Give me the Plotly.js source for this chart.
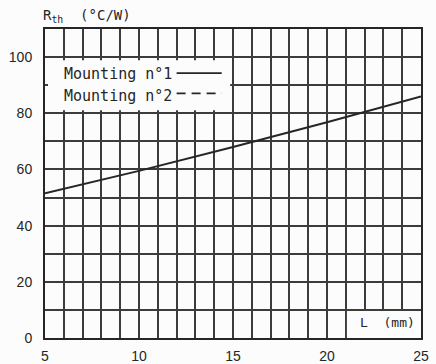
<!DOCTYPE html>
<html>
<head>
<meta charset="utf-8">
<script src="https://cdn.plot.ly/plotly-3.0.1.min.js"></script>
<style>
html,body{margin:0;padding:0;background:#fcfcfc;}
#chart{width:436px;height:364px;}
</style>
</head>
<body>
<div id="chart"></div>
<script>
// Data
const lengthMm = [5, 10, 15, 20, 25];
const rthMounting1 = [51.5, 59.5, 68, 76.8, 86];
const seriesNames = ['Mounting n°1', 'Mounting n°2'];
const xTickVals = [5, 6, 7, 8, 9, 10, 11, 12, 13, 14, 15, 16, 17, 18, 19, 20, 21, 22, 23, 24, 25];
const xTickText = ['5', '', '', '', '', '10', '', '', '', '', '15', '', '', '', '', '20', '', '', '', '', '25'];
const yTickVals = [0, 10, 20, 30, 40, 50, 60, 70, 80, 90, 100, 110];
const yTickText = ['0', '', '20', '', '40', '', '60', '', '80', '', '100', ''];
const yTitle = 'R<sub>th</sub>\u00a0\u00a0(°C/W)';
const xTitle = 'L\u00a0\u00a0(mm)';

const ink = '#262626';
const grid = '#3c3c3c';
const bg = '#fcfcfc';
const mono = 'DejaVu Sans Mono, monospace';

const traces = [{
  x: lengthMm, y: rthMounting1, type: 'scatter', mode: 'lines',
  name: seriesNames[0],
  line: {color: ink, width: 2},
  hoverinfo: 'skip'
}];

const layout = {
  width: 436, height: 364,
  margin: {l: 45, r: 15, t: 29, b: 26},
  paper_bgcolor: bg, plot_bgcolor: bg,
  showlegend: false,
  xaxis: {
    range: [5, 25], tickmode: 'array', tickvals: xTickVals, ticktext: xTickText, ticks: '',
    showgrid: true, gridcolor: grid, gridwidth: 1.6,
    showline: true, linecolor: ink, linewidth: 2, mirror: true, zeroline: false,
    tickfont: {family: 'Liberation Sans, Arial, sans-serif', size: 14, color: ink},
    ticklabelstandoff: 4
  },
  yaxis: {
    range: [0, 110], tickmode: 'array', tickvals: yTickVals, ticktext: yTickText, ticks: '',
    showgrid: true, gridcolor: grid, gridwidth: 1.6,
    showline: true, linecolor: ink, linewidth: 2, mirror: true, zeroline: false,
    tickfont: {family: 'Liberation Sans, Arial, sans-serif', size: 14, color: ink},
    ticklabelstandoff: 8
  },
  shapes: [
    // blank area behind legend
    {type: 'rect', xref: 'x', yref: 'y', x0: 5.16, x1: 14.85, y0: 81.1, y1: 98.9,
     fillcolor: bg, line: {width: 0}, layer: 'between'},
    // blank area behind axis label
    {type: 'rect', xref: 'x', yref: 'y', x0: 21.06, x1: 25, y0: 0, y1: 9.6,
     fillcolor: bg, line: {width: 0}, layer: 'between'},
    // legend samples
    {type: 'line', xref: 'x', yref: 'y', x0: 12.0, x1: 14.4, y0: 94.3, y1: 94.3,
     line: {color: ink, width: 1.8}},
    {type: 'line', xref: 'x', yref: 'y', x0: 12.0, x1: 14.4, y0: 87.1, y1: 87.1,
     line: {color: ink, width: 1.8, dash: '9px,6px'}}
  ],
  annotations: [
    {xref: 'x', yref: 'y', x: 5.9, y: 93.9, xanchor: 'left', yanchor: 'middle',
     text: seriesNames[0], showarrow: false, font: {family: mono, size: 15, color: ink}},
    {xref: 'x', yref: 'y', x: 5.9, y: 86.2, xanchor: 'left', yanchor: 'middle',
     text: seriesNames[1], showarrow: false, font: {family: mono, size: 15, color: ink}},
    {xref: 'paper', yref: 'paper', x: -0.01, y: 1.0, xanchor: 'left', yanchor: 'bottom',
     yshift: 2, text: yTitle, showarrow: false, font: {family: mono, size: 14, color: ink}},
    {xref: 'x', yref: 'y', x: 23.2, y: 5.6, xanchor: 'center', yanchor: 'middle',
     text: xTitle, showarrow: false, font: {family: mono, size: 13, color: ink}}
  ]
};

Plotly.newPlot('chart', traces, layout, {displayModeBar: false});
</script>
</body>
</html>
